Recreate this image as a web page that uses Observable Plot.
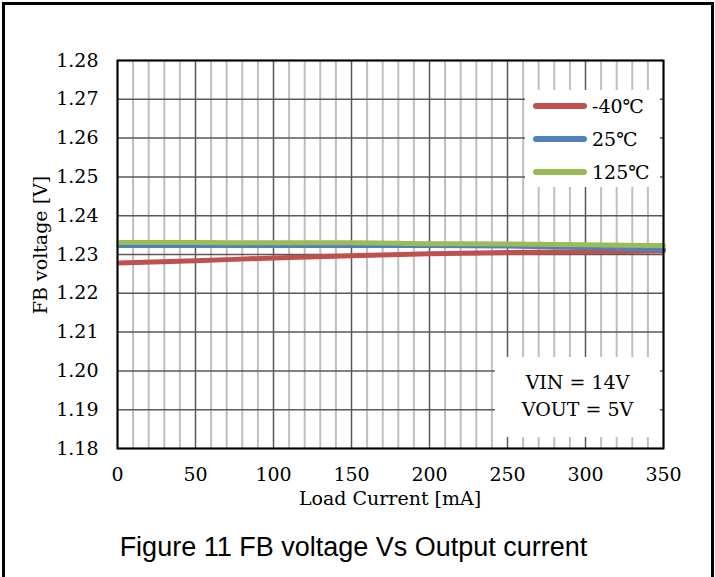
<!DOCTYPE html>
<html>
<head>
<meta charset="utf-8">
<script src="https://cdn.jsdelivr.net/npm/d3@7"></script>
<script src="https://cdn.jsdelivr.net/npm/@observablehq/plot@0.6"></script>
<style>
  html, body { margin: 0; padding: 0; background: #fff; }
  #fig { position: relative; width: 715px; height: 577px; overflow: hidden; font-family: "DejaVu Serif", serif; }
  #border { position: absolute; left: 2px; top: 2px; width: 706px; height: 600px; border: 3px solid #000; }
  #chart { position: absolute; left: 0; top: 0; }
  .lbl { position: absolute; font-size: 19px; color: #000; white-space: nowrap; }
  #legend { position: absolute; left: 525px; top: 90px; width: 135px; height: 97px; background: #fff; }
  .leg { position: absolute; left: 8px; height: 24px; font-size: 19px; line-height: 24px; }
  .leg span.sw { position: absolute; left: 0; top: 9px; width: 54px; height: 6px; border-radius: 3px; }
  .leg span.tx { position: absolute; left: 59px; top: 0; }
  #note { position: absolute; left: 495px; top: 357px; width: 165px; height: 80px; background: #fff; text-align: center; font-size: 19px; line-height: 27px; padding-top: 12px; box-sizing: border-box; }
  #title { position: absolute; left: 0; width: 707px; top: 532px; text-align: center; font-family: "Liberation Sans", Arial, sans-serif; font-size: 27px; }
</style>
</head>
<body>
<div id="fig">
  <div id="chart"></div>
  <div id="legend"></div>
  <div id="note">VIN = 14V<br>VOUT = 5V</div>
  <div class="lbl" id="xlabel">Load Current [mA]</div>
  <div class="lbl" id="ylabel">FB voltage [V]</div>
  <div id="title">Figure 11 FB voltage Vs Output current</div>
  <div id="border"></div>
</div>
<script>
// ---- data ----
const loadCurrent = [1, 50, 100, 150, 200, 250, 300, 350];
const vMinus40 = [1.2278, 1.2284, 1.2291, 1.2297, 1.2302, 1.2305, 1.2307, 1.2309];
const v25      = [1.2323, 1.2323, 1.2323, 1.2323, 1.2323, 1.2322, 1.2318, 1.2313];
const v125     = [1.2331, 1.2331, 1.2330, 1.2330, 1.2328, 1.2327, 1.2325, 1.2323];
const seriesNames = ["-40℃", "25℃", "125℃"];
const seriesColors = ["#C0504D", "#4F81BD", "#9BBB59"];
const xTicks = [0, 50, 100, 150, 200, 250, 300, 350];
const xMinorTicks = [10, 20, 30, 40, 60, 70, 80, 90, 110, 120, 130, 140, 160, 170, 180, 190,
  210, 220, 230, 240, 260, 270, 280, 290, 310, 320, 330, 340];
const yTicks = [1.18, 1.19, 1.20, 1.21, 1.22, 1.23, 1.24, 1.25, 1.26, 1.27, 1.28];

const seriesValues = [vMinus40, v25, v125];
const rows = [];
seriesValues.forEach((vals, i) => vals.forEach((v, j) => rows.push({x: loadCurrent[j], y: v, s: seriesNames[i]})));

const W = 715, H = 577;
const mL = 117, mR = 52, mT = 60, mB = 129;

const chart = Plot.plot({
  width: W, height: H,
  marginLeft: mL, marginRight: mR, marginTop: mT, marginBottom: mB,
  style: {fontFamily: "DejaVu Serif, serif", fontSize: "19px", color: "#000", background: "transparent"},
  x: {domain: [0, 350]},
  y: {domain: [1.18, 1.28]},
  color: {domain: seriesNames, range: seriesColors},
  marks: [
    Plot.ruleX(xMinorTicks, {stroke: "#bfbfbf", strokeWidth: 2}),
    Plot.ruleX(xTicks, {stroke: "#595959", strokeWidth: 1.5}),
    Plot.ruleY(yTicks, {stroke: "#595959", strokeWidth: 1.5}),
    Plot.line(rows, {x: "x", y: "y", z: "s", stroke: "s", strokeWidth: 5, curve: "monotone-x", strokeLinecap: "round"}),
    Plot.frame({stroke: "#000", strokeWidth: 2}),
    Plot.axisX({ticks: xTicks, tickSize: 0, tickPadding: 19, label: null, fontSize: 19}),
    Plot.axisY({ticks: yTicks, tickSize: 0, tickPadding: 19, label: null, tickFormat: d3.format(".2f"), fontSize: 19})
  ]
});
document.getElementById("chart").appendChild(chart);

// legend
const legend = document.getElementById("legend");
seriesNames.forEach((name, i) => {
  const d = document.createElement("div");
  d.className = "leg";
  d.style.top = (4 + i * 33) + "px";
  d.innerHTML = `<span class="sw" style="background:${seriesColors[i]}"></span><span class="tx">${name}</span>`;
  legend.appendChild(d);
});

// axis labels
const xl = document.getElementById("xlabel");
xl.style.left = (mL + (W - mL - mR) / 2) + "px";
xl.style.top = "487px";
xl.style.transform = "translateX(-50%)";
const yl = document.getElementById("ylabel");
yl.style.left = "40px";
yl.style.top = "245px";
yl.style.transform = "translate(-50%, -50%) rotate(-90deg)";
</script>
</body>
</html>
